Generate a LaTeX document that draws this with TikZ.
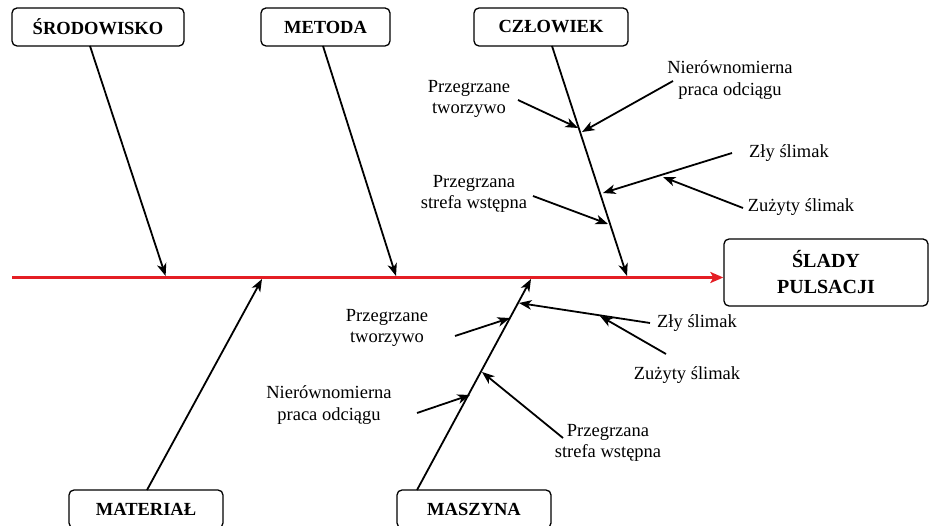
\documentclass[tikz,border=0pt]{standalone}
\usepackage{fontspec}
\setmainfont{Liberation Serif}
\usetikzlibrary{arrows.meta}
\definecolor{spinered}{RGB}{228,30,36}
\begin{document}
\begin{tikzpicture}[x=1pt,y=-1pt,
  cat/.style={draw, line width=1.3pt, rounded corners=5pt, inner sep=0pt,
    font=\fontsize{18.5}{22}\selectfont\bfseries, align=center},
  lbl/.style={font=\fontsize{18.5}{21.5}\selectfont, align=center, inner sep=0pt},
  bone/.style={line width=1.8pt, -{Stealth[length=12.5pt,width=9.5pt,inset=3.5pt]}},
  spine/.style={draw=spinered, line width=2.8pt, -{Stealth[length=13pt,width=11pt,inset=3pt]}}]
\useasboundingbox (0,0) rectangle (929,526);

% category boxes
\node[cat, minimum width=172pt, minimum height=38pt] (srod) at (98,27) {ŚRODOWISKO};
\node[cat, minimum width=129pt, minimum height=38pt] (met)  at (325.5,27) {METODA};
\node[cat, minimum width=154pt, minimum height=38pt] (czl)  at (551,27) {CZŁOWIEK};
\node[cat, minimum width=154pt, minimum height=38pt] (mat)  at (146,509) {MATERIAŁ};
\node[cat, minimum width=154pt, minimum height=38pt] (masz) at (474,509) {MASZYNA};
\node[cat, minimum width=204pt, minimum height=67pt, font=\fontsize{20}{26}\selectfont\bfseries]
  (effect) at (826,272.5) {ŚLADY\\PULSACJI};

% spine
\coordinate (sp0) at (12,277.5);
\draw[spine] (sp0) -- (effect.west |- sp0);

% main bones
\coordinate (b1s) at (90,46);    \coordinate (b1t) at (165.6,276);
\coordinate (b2s) at (323,46);   \coordinate (b2t) at (396,276);
\coordinate (b3s) at (552,46);   \coordinate (b3t) at (627,276);
\coordinate (b4s) at (147,490);  \coordinate (b4t) at (262,279);
\coordinate (b5s) at (417,490);  \coordinate (b5t) at (531,279);
\draw[bone] (b1s) -- (b1t);
\draw[bone] (b2s) -- (b2t);
\draw[bone] (b3s) -- (b3t);
\draw[bone] (b4s) -- (b4t);
\draw[bone] (b5s) -- (b5t);

% causes on the CZŁOWIEK bone
\node[lbl] (u1) at (469,99)  {Przegrzane\\tworzywo};
\node[lbl] (u2) at (730,80)  {Nierównomierna\\praca odciągu};
\node[lbl] (u3) at (789,153) {Zły ślimak};
\node[lbl] (u4) at (801,207) {Zużyty ślimak};
\node[lbl] (u5) at (474,194) {Przegrzana\\strefa wstępna};
\coordinate (u1s) at (518,100); \coordinate (u1t) at (578,128);
\coordinate (u2s) at (673,81);  \coordinate (u2t) at (582,132);
\coordinate (u3s) at (732,153); \coordinate (u3t) at (603,193);
\coordinate (u4s) at (743,208); \coordinate (u4t) at (663,177);
\coordinate (u5s) at (533,196); \coordinate (u5t) at (608,224);
\draw[bone] (u1s) -- (u1t);
\draw[bone] (u2s) -- (u2t);
\draw[bone] (u3s) -- (u3t);
\draw[bone] (u4s) -- (u4t);
\draw[bone] (u5s) -- (u5t);

% causes on the MASZYNA bone
\node[lbl] (l1) at (697,323) {Zły ślimak};
\node[lbl] (l2) at (687,375) {Zużyty ślimak};
\node[lbl] (l3) at (387,328) {Przegrzane\\tworzywo};
\node[lbl] (l4) at (329,405) {Nierównomierna\\praca odciągu};
\node[lbl] (l5) at (608,443) {Przegrzana\\strefa wstępna};
\coordinate (l1s) at (650,323); \coordinate (l1t) at (519,303);
\coordinate (l2s) at (666,354); \coordinate (l2t) at (600,316);
\coordinate (l3s) at (455,336); \coordinate (l3t) at (510,318);
\coordinate (l4s) at (417,413); \coordinate (l4t) at (470,395);
\coordinate (l5s) at (563,438); \coordinate (l5t) at (482,372);
\draw[bone] (l1s) -- (l1t);
\draw[bone] (l2s) -- (l2t);
\draw[bone] (l3s) -- (l3t);
\draw[bone] (l4s) -- (l4t);
\draw[bone] (l5s) -- (l5t);
\end{tikzpicture}
\end{document}
